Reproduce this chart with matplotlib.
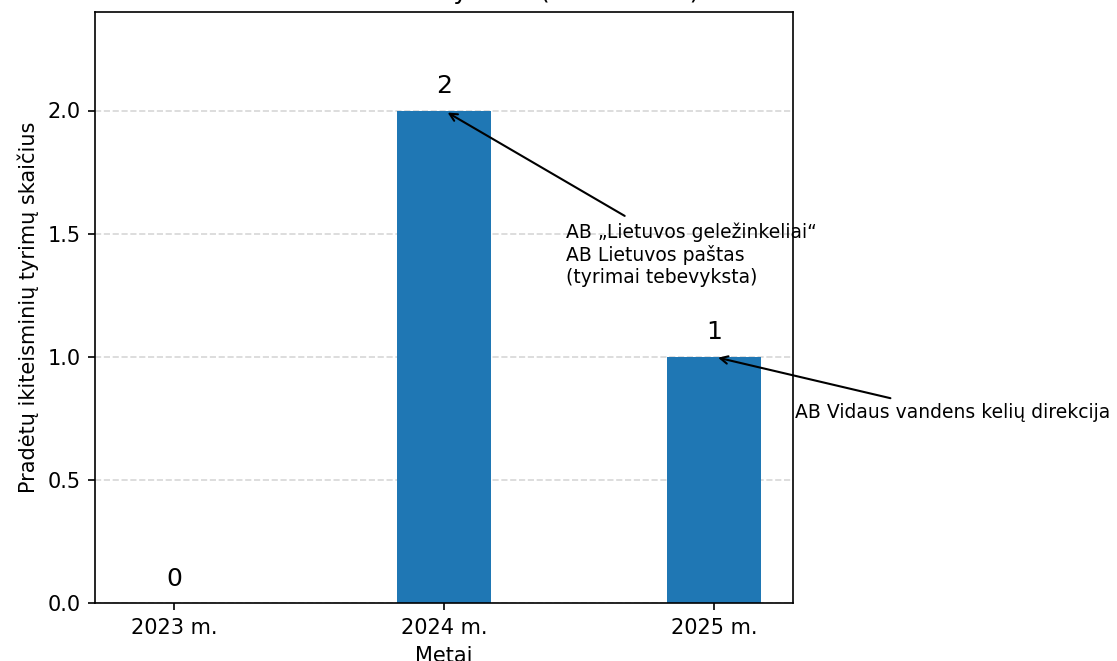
import matplotlib
matplotlib.use("Agg")
import matplotlib.pyplot as plt

years = ["2023 m.", "2024 m.", "2025 m."]
counts = [0, 2, 1]
title = "Pradėti ikiteisminiai tyrimai (2023–2025)"
xlabel = "Metai"
ylabel = "Pradėtų ikiteisminių tyrimų skaičius"
note_2024 = "AB „Lietuvos geležinkeliai“\nAB Lietuvos paštas\n(tyrimai tebevyksta)"
note_2025 = "AB Vidaus vandens kelių direkcija"

DPI = 150
fig = plt.figure(figsize=(1117 / DPI, 661 / DPI), dpi=DPI)
ax = fig.add_axes([95 / 1117, (661 - 603) / 661, 698 / 1117, 591 / 661])

x = list(range(len(years)))
ax.bar(x, counts, width=0.35, color="#1f77b4", zorder=2)
for xi, v in zip(x, counts):
    ax.text(xi, v + 0.05, str(v), ha="center", va="bottom", fontsize=12)

ax.set_xticks(x)
ax.set_xticklabels(years)
ax.set_ylim(0, max(counts) * 1.2)
ax.set_title(title, fontsize=12)
ax.set_xlabel(xlabel)
ax.set_ylabel(ylabel)
ax.grid(axis="y", linestyle="--", alpha=0.5)
ax.set_axisbelow(True)

ax.annotate(note_2024, xy=(1, counts[1]), xytext=(1.45, 1.3), fontsize=9,
            arrowprops=dict(arrowstyle="->", color="black"), annotation_clip=False)
ax.annotate(note_2025, xy=(2, counts[2]), xytext=(2.3, 0.75), fontsize=9,
            arrowprops=dict(arrowstyle="->", color="black"), annotation_clip=False)

fig.savefig("out.png", dpi=DPI)
